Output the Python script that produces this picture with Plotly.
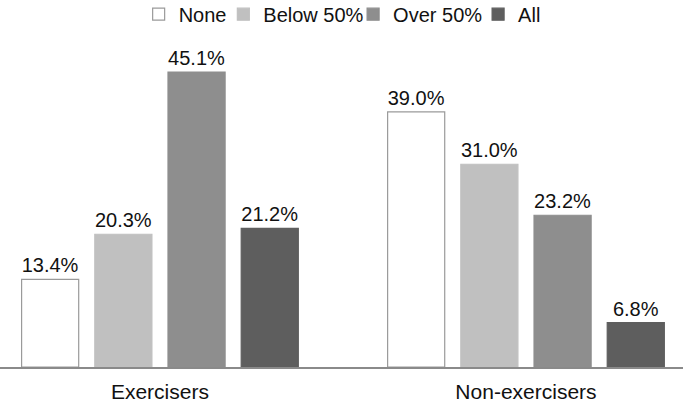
import plotly.graph_objects as go

categories = ["Exercisers", "Non-exercisers"]
series_names = ["None", "Below 50%", "Over 50%", "All"]
none_vals = [13.4, 39.0]
below_vals = [20.3, 31.0]
over_vals = [45.1, 23.2]
all_vals = [21.2, 6.8]

series_values = [none_vals, below_vals, over_vals, all_vals]
fill_colors = ["#ffffff", "#c0c0c0", "#8e8e8e", "#5e5e5e"]
line_colors = ["#9a9a9a", "#c0c0c0", "#8e8e8e", "#5e5e5e"]
legend_ids = ["legend", "legend2", "legend3", "legend4"]
legend_x = [0.203, 0.327, 0.517, 0.700]

font_family = "Liberation Sans, Arial, sans-serif"
fig = go.Figure()
for name, vals, fc, lc, lid in zip(series_names, series_values, fill_colors, line_colors, legend_ids):
    fig.add_trace(go.Bar(
        x=list(range(len(categories))), y=vals, name=name, legend=lid,
        marker=dict(color=fc, line=dict(color=lc, width=1.2)),
        text=[f"{v:.1f}%" for v in vals], textposition="outside",
        textfont=dict(size=20, color="#111111", family=font_family),
        cliponaxis=False,
    ))

legend_common = dict(orientation="h", xanchor="left", yref="container", y=0.965, yanchor="middle",
                     font=dict(size=20, color="#111111"), itemwidth=30, bgcolor="rgba(0,0,0,0)")
layout_legends = {lid: dict(x=lx, **legend_common) for lid, lx in zip(legend_ids, legend_x)}

fig.update_layout(
    width=683, height=404,
    margin=dict(l=0, r=0, t=40, b=37, autoexpand=False),
    barmode="group", bargap=0.2, bargroupgap=0.22,
    plot_bgcolor="white", paper_bgcolor="white",
    font=dict(family=font_family, size=20, color="#111111"),
    showlegend=True,
    xaxis=dict(range=[-0.437, 1.429], tickvals=[0, 1], ticktext=categories,
               showline=True, linecolor="#8a8a8a", linewidth=1.5, showgrid=False,
               ticks="", zeroline=False, tickfont=dict(size=21), ticklabelstandoff=5,
               automargin=False),
    yaxis=dict(range=[0, 50], visible=False, showgrid=False, zeroline=False, automargin=False),
    **layout_legends,
)
fig.write_html("out.html", config={"displayModeBar": False},
               post_script="document.body.style.margin='0';document.body.style.overflow='hidden';")
